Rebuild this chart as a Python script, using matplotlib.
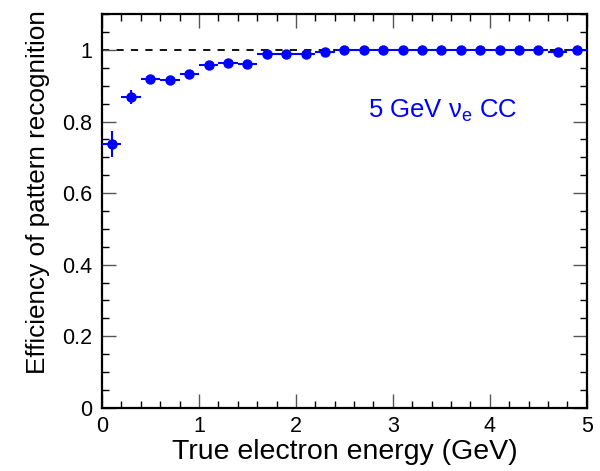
import matplotlib
matplotlib.use("Agg")
import matplotlib.pyplot as plt
from matplotlib.ticker import MultipleLocator, FormatStrFormatter
import numpy as np

plt.rcParams['font.family'] = ['Liberation Sans', 'DejaVu Sans']

# Energy bins (GeV): centres and half-widths
energy = [0.1, 0.3, 0.5, 0.7, 0.9, 1.1, 1.3, 1.5, 1.7, 1.9,
          2.1, 2.3, 2.5, 2.7, 2.9, 3.1, 3.3, 3.5, 3.7, 3.9,
          4.1, 4.3, 4.5, 4.7, 4.9]
half_width = [0.1] * 25

# Pattern recognition efficiency per bin and its uncertainty
efficiency = [0.737, 0.868, 0.920, 0.915, 0.933, 0.957, 0.963, 0.960, 0.989, 0.990,
              0.988, 0.995, 1.000, 1.000, 1.000, 1.000, 1.000, 1.000, 1.000, 0.999,
              0.999, 0.999, 0.999, 0.996, 1.000]
eff_err = [0.037, 0.019, 0.007, 0.007, 0.006, 0.005, 0.004, 0.004, 0.003, 0.003,
           0.003, 0.002, 0.001, 0.001, 0.001, 0.001, 0.001, 0.001, 0.001, 0.001,
           0.001, 0.001, 0.001, 0.002, 0.001]

fig = plt.figure(figsize=(6.0, 4.71), dpi=100)
ax = fig.add_axes([0.17, 0.1344, 0.808, 0.8352])

ax.axhline(1.0, color='black', lw=1.3, ls=(0, (4, 4)), zorder=1)
ax.errorbar(energy, efficiency, xerr=half_width, yerr=eff_err, fmt='o',
            color='#0000ff', ms=6.5, elinewidth=1.5, capsize=0, zorder=3)

ax.set_xlim(0, 5)
ax.set_ylim(0, 1.1)
ax.xaxis.set_major_locator(MultipleLocator(1))
ax.xaxis.set_minor_locator(MultipleLocator(0.2))
ax.yaxis.set_major_locator(MultipleLocator(0.2))
ax.yaxis.set_minor_locator(MultipleLocator(0.05))
ax.yaxis.set_major_formatter(FormatStrFormatter('%g'))
ax.xaxis.set_major_formatter(FormatStrFormatter('%g'))

ax.tick_params(which='both', direction='in', top=True, right=True, labelsize=15.5)
ax.tick_params(which='major', length=10, width=1.0, color='#555555')
ax.tick_params(which='minor', length=5, width=1.0, color='black')
ax.tick_params(axis='x', which='major', pad=6)
ax.tick_params(axis='y', which='major', pad=7)
for s in ax.spines.values():
    s.set_linewidth(1.6)

ax.set_xlabel('True electron energy (GeV)', fontsize=20.5)
ax.set_ylabel('Efficiency of pattern recognition', fontsize=18.8)
ax.yaxis.set_label_coords(-0.107, 0.548)
ax.xaxis.set_label_coords(0.5, -0.08)

ax.text(2.74, 0.83, r'5 GeV $\mathregular{\nu_e}$ CC', color='#0000ff', fontsize=18.5,
        ha='left', va='center')

fig.savefig('out.png', dpi=100)
